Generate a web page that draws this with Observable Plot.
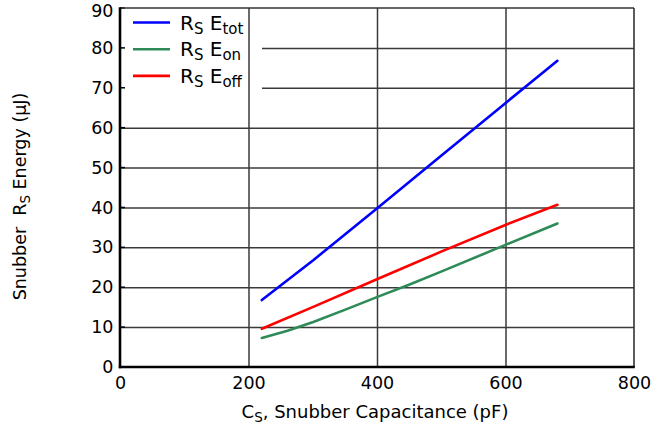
<!DOCTYPE html>
<html>
<head>
<meta charset="utf-8">
<script src="https://cdn.jsdelivr.net/npm/d3@7"></script>
<script src="https://cdn.jsdelivr.net/npm/@observablehq/plot@0.6"></script>
<style>
  html, body { margin: 0; padding: 0; background: #fff; }
  #chart { width: 666px; height: 429px; }
</style>
</head>
<body>
<div id="chart"></div>
<script>
// ---- data ----
const etotX = [220, 300, 400, 500, 600, 680];
const etotY = [16.9, 26.9, 40.0, 53.2, 66.4, 76.9];
const eonX = [220, 260, 300, 350, 400, 450, 500, 600, 680];
const eonY = [7.4, 9.2, 11.4, 14.5, 17.7, 20.8, 24.1, 30.8, 36.1];
const eoffX = [220, 300, 400, 500, 600, 680];
const eoffY = [9.7, 15.2, 22.2, 29.1, 35.8, 40.8];
const xTicks = [0, 200, 400, 600, 800];
const yTicks = [0, 10, 20, 30, 40, 50, 60, 70, 80, 90];
const xGrid = [200, 400, 600];
const yGrid = [10, 20, 30, 40, 50, 60, 70, 80];
const seriesNames = ["tot", "on", "off"];
const seriesColors = ["#0000ff", "#2e8b57", "#ff0000"];

const rows = [];
etotX.forEach((x, i) => rows.push({s: "tot", x, y: etotY[i]}));
eonX.forEach((x, i) => rows.push({s: "on", x, y: eonY[i]}));
eoffX.forEach((x, i) => rows.push({s: "off", x, y: eoffY[i]}));

const FONT = '"DejaVu Sans", "Liberation Sans", Arial, sans-serif';
const W = 666, H = 429;
const mL = 120, mR = 32, mT = 8, mB = 62;

const plot = Plot.plot({
  width: W, height: H,
  marginLeft: mL, marginRight: mR, marginTop: mT, marginBottom: mB,
  style: {fontFamily: FONT, fontSize: "17.5px", color: "#000", background: "#fff"},
  x: {domain: [0, 800], label: null},
  y: {domain: [0, 90], label: null},
  color: {domain: seriesNames, range: seriesColors},
  marks: [
    Plot.ruleY(yGrid, {stroke: "#3a3a3a", strokeWidth: 1.5}),
    Plot.ruleX(xGrid, {stroke: "#3a3a3a", strokeWidth: 1.5}),
    Plot.line(rows, {x: "x", y: "y", z: "s", stroke: "s", strokeWidth: 2.6}),
    Plot.axisX({ticks: xTicks, tickSize: 0, tickPadding: 9, fontSize: 17.5, label: null}),
    Plot.axisY({ticks: yTicks, tickSize: 0, tickPadding: 7, fontSize: 17.5, label: null})
  ]
});
document.getElementById("chart").appendChild(plot);

const svg = d3.select(plot);
const xs = plot.scale("x"), ys = plot.scale("y");
const x0 = xs.apply(0), x1 = xs.apply(800), y0 = ys.apply(0), y1 = ys.apply(90);

// top tick label sits a little lower (as in the reference) so it is not clipped
plot.querySelectorAll("g[aria-label='y-axis tick label'] text").forEach(t => {
  if (t.textContent.trim() === String(yTicks[yTicks.length - 1])) {
    const tr = t.getAttribute("transform") || "";
    t.setAttribute("transform", tr + " translate(0,3)");
  }
});

// white legend background: hides horizontal grid, below the vertical grid
const ruleGroups = plot.querySelectorAll("g[aria-label='rule']");
const bg = document.createElementNS("http://www.w3.org/2000/svg", "rect");
bg.setAttribute("x", x0 + 1); bg.setAttribute("y", y1 + 1);
bg.setAttribute("width", 141); bg.setAttribute("height", 86);
bg.setAttribute("fill", "#fff");
ruleGroups[1].parentNode.insertBefore(bg, ruleGroups[1]);

// legend entries
const lg = svg.append("g").attr("text-anchor", "start").attr("font-family", FONT);
seriesNames.forEach((sub, i) => {
  const cy = 22.5 + i * 26.7;
  lg.append("line").attr("x1", 133).attr("x2", 170).attr("y1", cy).attr("y2", cy)
    .attr("stroke", seriesColors[i]).attr("stroke-width", 2.6);
  const t = lg.append("text").attr("x", 180).attr("y", cy + 7).attr("font-size", 20).attr("fill", "#000");
  t.append("tspan").text("R");
  t.append("tspan").attr("font-size", 15).attr("dy", 4).text("S");
  t.append("tspan").attr("dy", -4).text(" E");
  t.append("tspan").attr("font-size", 15).attr("dy", 4).text(sub);
});

// small inward ticks on the left axis
yTicks.forEach(v => {
  svg.append("line").attr("x1", x0).attr("x2", x0 + 5).attr("y1", ys.apply(v)).attr("y2", ys.apply(v))
    .attr("stroke", "#000").attr("stroke-width", 1.5);
});

// frame
svg.append("line").attr("x1", x0).attr("x2", x1).attr("y1", y1).attr("y2", y1).attr("stroke", "#333").attr("stroke-width", 1.6);
svg.append("line").attr("x1", x1).attr("x2", x1).attr("y1", y1).attr("y2", y0).attr("stroke", "#333").attr("stroke-width", 1.6);
svg.append("line").attr("x1", x0).attr("x2", x0).attr("y1", y1 - 0.8).attr("y2", y0 + 1.2).attr("stroke", "#000").attr("stroke-width", 2.6);
svg.append("line").attr("x1", x0 - 1.2).attr("x2", x1 + 0.8).attr("y1", y0).attr("y2", y0).attr("stroke", "#000").attr("stroke-width", 2.6);

// x axis title
const xt = svg.append("text").attr("x", (x0 + x1) / 2 - 2).attr("y", 418).attr("text-anchor", "middle")
  .attr("font-family", FONT).attr("font-size", 18).attr("fill", "#000");
xt.append("tspan").text("C");
xt.append("tspan").attr("font-size", 13.5).attr("dy", 4).text("S");
xt.append("tspan").attr("dy", -4).text(", Snubber Capacitance (pF)");

// y axis title
const yt = svg.append("text").attr("transform", `translate(26, ${(y0 + y1) / 2 + 9}) rotate(-90)`)
  .attr("text-anchor", "middle").attr("font-family", FONT).attr("font-size", 17.5).attr("fill", "#000");
yt.append("tspan").text("Snubber  R");
yt.append("tspan").attr("font-size", 13.5).attr("dy", 4).text("S");
yt.append("tspan").attr("dy", -4).text(" Energy (\u00b5J)");
</script>
</body>
</html>
